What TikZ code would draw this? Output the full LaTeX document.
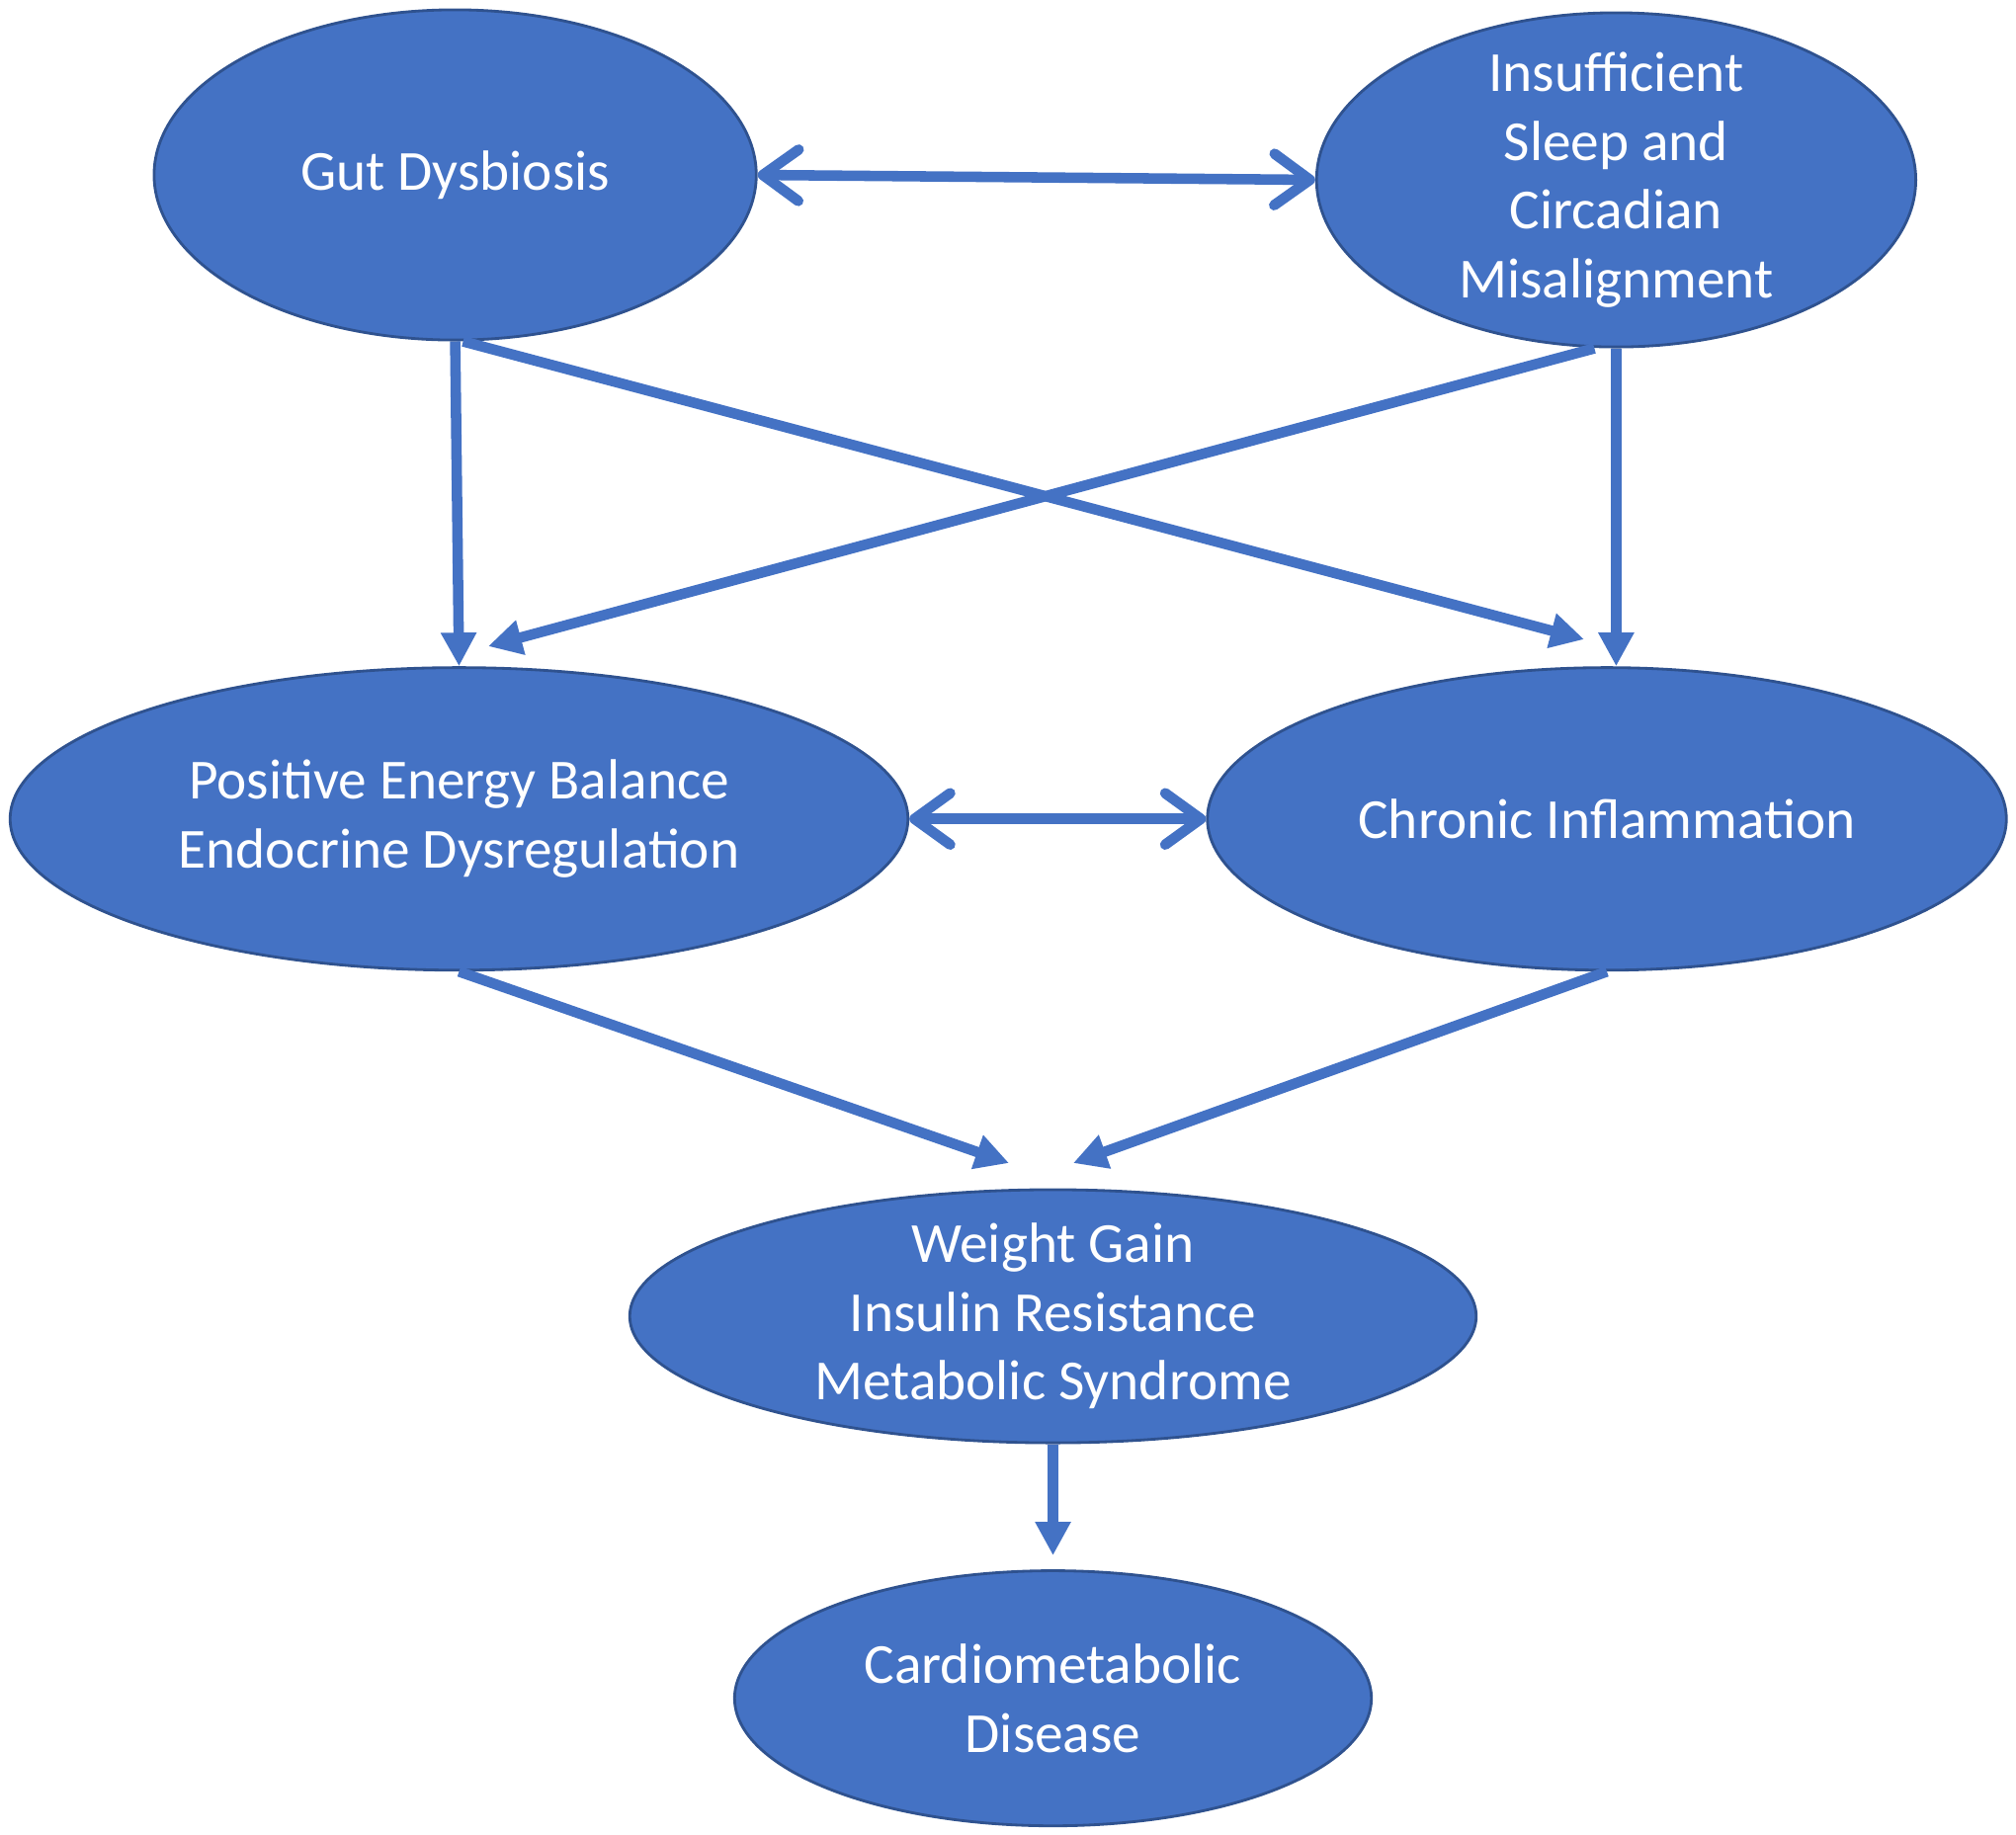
\documentclass[tikz,border=0pt]{standalone}
\usepackage{fontspec}
\setmainfont{Carlito}
\usepackage{tikz}
\usetikzlibrary{arrows.meta,shapes.geometric,calc}
\definecolor{bubblefill}{RGB}{68,114,196}
\definecolor{bubbleline}{RGB}{47,82,143}
\definecolor{linkblue}{RGB}{68,114,196}
\tikzset{
  bubble/.style={
    ellipse,
    draw=bubbleline,
    line width=0.8pt,
    fill=bubblefill,
    text=white,
    align=center,
    inner sep=0pt,
    font=\fontsize{16.3}{19.8}\selectfont
  },
  link/.style={-{Triangle[length=3.4mm,width=3.4mm]}, line width=3pt, draw=linkblue},
  twoway/.style={{Straight Barb[length=3.6mm,width=5.2mm,line join=round,line cap=round]}-{Straight Barb[length=3.6mm,width=5.2mm,line join=round,line cap=round]},
    line width=3pt, draw=linkblue}
}

\begin{document}
\begin{tikzpicture}[x=0.01cm,y=-0.01cm]
    \useasboundingbox (0,0) rectangle (2040,1856);

    \node[bubble, minimum width=6.09cm, minimum height=3.34cm] (gut) at (460.6,177) {Gut Dysbiosis};
    \node[bubble, inner ysep=-6pt, minimum width=6.06cm, minimum height=3.38cm] (sleep) at (1635.4,182) {Insufficient\\Sleep and\\Circadian\\Misalignment};
    \node[bubble, minimum width=9.08cm, minimum height=3.06cm] (energy) at (464.5,828.7) {Positive Energy Balance\\Endocrine Dysregulation};
    \node[bubble, minimum width=8.08cm, minimum height=3.06cm] (inflam) at (1626,828.7) {Chronic Inflammation};
    \node[bubble, inner ysep=-4pt, minimum width=8.56cm, minimum height=2.56cm] (weight) at (1065.5,1332) {Weight Gain\\Insulin Resistance\\Metabolic Syndrome};
    \node[bubble, minimum width=6.44cm, minimum height=2.58cm] (cardio) at (1065.5,1718.6) {Cardiometabolic\\Disease};

    % free ends of the crossing and converging arrows
    \coordinate (inflamtip) at (1603,647);
    \coordinate (energytip) at (494,654);
    \coordinate (weightL) at (1021,1177);
    \coordinate (weightR) at (1086,1177);

    \draw[twoway] (gut.east) -- (sleep.west);
    \draw[twoway] (energy.east) -- (inflam.west);

    \draw[link] (gut.south) -- (energy.north);
    \draw[link] ($(gut.south)+(8,0)$) -- (inflamtip);
    \draw[link] ($(sleep.south)+(-22,0)$) -- (energytip);
    \draw[link] (sleep.south) -- (sleep.south |- inflam.north);

    \draw[link] (energy.south) -- (weightL);
    \draw[link] (inflam.south) -- (weightR);
    \draw[link, shorten >=4pt] (weight.south) -- (cardio.north);
  \end{tikzpicture}
\end{document}
